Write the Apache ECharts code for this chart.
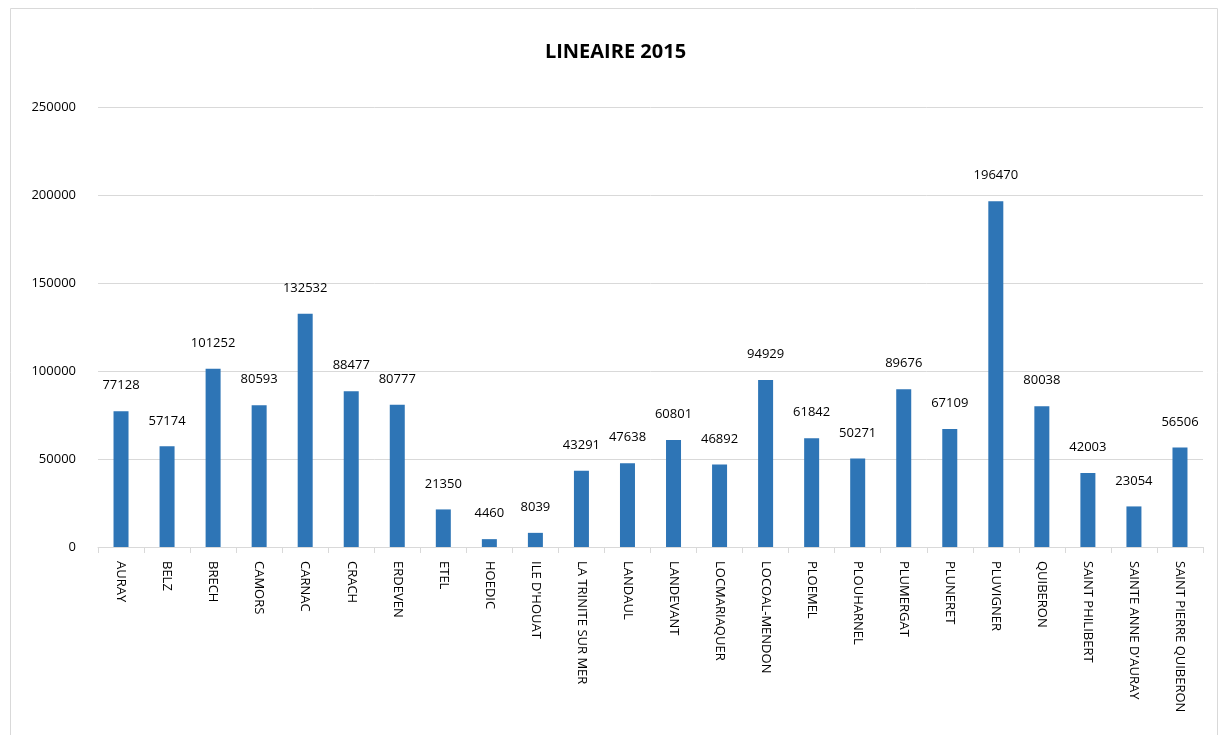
<!DOCTYPE html>
<html>
<head>
<meta charset="utf-8">
<script src="https://cdn.jsdelivr.net/npm/echarts@6/dist/echarts.min.js"></script>
<style>
  html, body { margin: 0; padding: 0; background: #fff; }
  #chart { width: 1231px; height: 735px; }
</style>
</head>
<body>
<div id="chart"></div>
<script>
var communes = ['AURAY', 'BELZ', 'BRECH', 'CAMORS', 'CARNAC', 'CRACH', 'ERDEVEN', 'ETEL', 'HOEDIC',
  "ILE D'HOUAT", 'LA TRINITE SUR MER', 'LANDAUL', 'LANDEVANT', 'LOCMARIAQUER', 'LOCOAL-MENDON',
  'PLOEMEL', 'PLOUHARNEL', 'PLUMERGAT', 'PLUNERET', 'PLUVIGNER', 'QUIBERON', 'SAINT PHILIBERT',
  "SAINTE ANNE D'AURAY", 'SAINT PIERRE QUIBERON']
var lineaire = [77128, 57174, 101252, 80593, 132532, 88477, 80777, 21350, 4460, 8039, 43291, 47638,
  60801, 46892, 94929, 61842, 50271, 89676, 67109, 196470, 80038, 42003, 23054, 56506]

var font = '"Open Sans", "Noto Sans", sans-serif'
var chart = echarts.init(document.getElementById('chart'))
chart.setOption({
  animation: false,
  title: {
    text: 'LINEAIRE 2015',
    left: 'center',
    top: 37,
    textStyle: { fontFamily: font, fontSize: 20, fontWeight: 'bold', color: '#000' }
  },
  graphic: [{
    type: 'rect',
    shape: { x: 10.5, y: 8.5, width: 1207, height: 740 },
    style: { fill: null, stroke: '#d9d9d9', lineWidth: 1 },
    silent: true
  }],
  grid: { left: 98, right: 28, top: 107, bottom: 188 },
  xAxis: {
    type: 'category',
    data: communes,
    axisLine: { lineStyle: { color: '#d9d9d9', width: 1 } },
    axisTick: { show: true, length: 6, lineStyle: { color: '#d9d9d9' } },
    axisLabel: { rotate: -90, interval: 0, margin: 14, fontFamily: font, fontSize: 13, color: '#000' }
  },
  yAxis: {
    type: 'value',
    min: 0,
    max: 250000,
    interval: 50000,
    axisLine: { show: false },
    axisTick: { show: false },
    splitLine: { lineStyle: { color: '#d9d9d9', width: 1 } },
    axisLabel: { margin: 22, fontFamily: font, fontSize: 13, color: '#000', formatter: function (v) { return String(v) } }
  },
  series: [{
    type: 'bar',
    data: lineaire,
    barWidth: 15,
    itemStyle: { color: '#2e75b6' },
    label: {
      show: true,
      position: 'top',
      distance: 19,
      fontFamily: font,
      fontSize: 13,
      color: '#000'
    }
  }]
})
</script>
</body>
</html>
